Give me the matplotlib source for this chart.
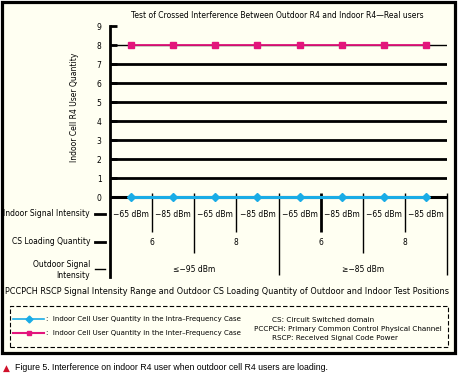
import numpy as np
import matplotlib
matplotlib.use('Agg')
from matplotlib import pyplot as plt
from matplotlib.patches import Rectangle

# datos
posiciones = np.arange(8) + 0.5
intra_frecuencia = [0, 0, 0, 0, 0, 0, 0, 0]
inter_frecuencia = [8, 8, 8, 8, 8, 8, 8, 8]
senal_interior = ['\u221265 dBm', '\u221285 dBm'] * 4
carga_cs = ['6', '8', '6', '8']
senal_exterior = ['\u2264\u221295 dBm', '\u2265\u221285 dBm']
yticks = list(range(10))

W, H = 459, 375
fondo = '#FFFFF2'
azul = '#1AACE6'
magenta = '#E3157C'

fig = plt.figure(figsize=(W / 100, H / 100), dpi=100)
fig.patch.set_facecolor('white')

# marco exterior
fig.patches.append(Rectangle((1.5 / W, 1 - 352.5 / H), 453.5 / W, 351 / H,
                             transform=fig.transFigure, facecolor=fondo,
                             edgecolor='black', linewidth=2.3, zorder=-5))


def px(x, y):
    return x / W, 1 - y / H


ax = fig.add_axes([110 / W, 1 - 277 / H, 337 / W, 251 / H])
ax.set_facecolor('none')
ax.set_xlim(0, 8)
ax.set_ylim(-4.21, 9)
for lado in ['top', 'right', 'bottom']:
    ax.spines[lado].set_visible(False)
ax.spines['left'].set_linewidth(2)
ax.set_xticks([])
ax.set_yticks(yticks)
ax.set_yticklabels([str(t) for t in yticks], fontsize=5.5)
ax.tick_params(axis='y', direction='in', length=5, width=2, pad=6)

# lineas de la rejilla
for g in range(1, 8):
    ax.plot([0, 8], [g, g], color='black', lw=2, zorder=1, solid_capstyle='butt')
ax.plot([0, 8], [8, 8], color='black', lw=1, zorder=1)
ax.plot([0, 8], [0, 0], color='black', lw=2.2, zorder=1, solid_capstyle='butt')

ax.plot(posiciones, intra_frecuencia, color=azul, lw=2.2, marker='D',
        markersize=4, zorder=3, clip_on=False)
ax.plot(posiciones, inter_frecuencia, color=magenta, lw=1.3, marker='s',
        markersize=4, zorder=3, clip_on=False)

ax.set_ylabel('Indoor Cell R4 User Quantity', fontsize=5.5)
ax.yaxis.set_label_coords(-0.092, 0.677)

# tabla debajo del eje
largos = [-1.84, -2.95, -1.84, -4.1, -1.84, -2.95, -1.84, -4.1]
anchos = [1, 1, 1, 1, 2, 1, 1, 1]
for k in range(8):
    ax.plot([k + 1, k + 1], [0.2, largos[k]], color='black', lw=anchos[k],
            clip_on=False, solid_capstyle='butt')

for i, t in enumerate(senal_interior):
    ax.text(posiciones[i], -0.9, t, fontsize=5.5, ha='center', va='center')
for i, t in enumerate(carga_cs):
    ax.text(2 * i + 1, -2.37, t, fontsize=5.5, ha='center', va='center')
for i, t in enumerate(senal_exterior):
    ax.text(4 * i + 2, -3.84, t, fontsize=5.5, ha='center', va='center')

fig.text(*px(90, 214), 'Indoor Signal Intensity', fontsize=5.5, ha='right', va='center')
fig.text(*px(90, 242), 'CS Loading Quantity', fontsize=5.5, ha='right', va='center')
fig.text(*px(90, 270), 'Outdoor Signal\nIntensity', fontsize=5.5, ha='right',
         va='center', multialignment='right', linespacing=1.4)
for yy, lw in [(214, 2), (242, 2), (269, 1)]:
    fig.add_artist(plt.Line2D([95 / W, 105 / W], [1 - yy / H] * 2,
                              color='black', lw=lw))

fig.text(*px(277, 15), 'Test of Crossed Interference Between Outdoor R4 and Indoor R4\u2014Real users',
         fontsize=5.5, ha='center', va='center')
fig.text(*px(227, 292), 'PCCPCH RSCP Signal Intensity Range and Outdoor CS Loading Quantity of Outdoor and Indoor Test Positions',
         fontsize=5.85, ha='center', va='center')

# leyenda
fig.patches.append(Rectangle((10 / W, 1 - 347 / H), 438 / W, 41 / H,
                             transform=fig.transFigure, facecolor='none',
                             edgecolor='black', linewidth=0.8, linestyle=(0, (4, 2))))
fig.add_artist(plt.Line2D([13 / W, 44 / W], [1 - 319 / H] * 2, color=azul, lw=1.2))
fig.add_artist(plt.Line2D([28.5 / W], [1 - 319 / H], color=azul, marker='D', markersize=3.5))
fig.add_artist(plt.Line2D([13 / W, 44 / W], [1 - 333 / H] * 2, color=magenta, lw=1.5))
fig.add_artist(plt.Line2D([28.5 / W], [1 - 333 / H], color=magenta, marker='s', markersize=3.5))
fig.text(*px(46, 319), ':  Indoor Cell User Quantity in the Intra\u2013Frequency Case',
         fontsize=5.0, ha='left', va='center')
fig.text(*px(46, 333), ':  Indoor Cell User Quantity in the Inter\u2013Frequency Case',
         fontsize=5.0, ha='left', va='center')
fig.text(*px(272, 320), 'CS: Circuit Switched domain', fontsize=5.2, ha='left', va='center')
fig.text(*px(254, 329), 'PCCPCH: Primary Common Control Physical Channel', fontsize=5.2,
         ha='left', va='center')
fig.text(*px(272, 338), 'RSCP: Received Signal Code Power', fontsize=5.2, ha='left', va='center')

# pie de figura
fig.text(*px(3, 368), '\u25b2', fontsize=6.5, color='#D0102A', ha='left', va='center')
fig.text(*px(15, 368), 'Figure 5. Interference on indoor R4 user when outdoor cell R4 users are loading.',
         fontsize=6.3, ha='left', va='center', family=['Liberation Sans', 'DejaVu Sans'])

fig.savefig('out.png', dpi=100, facecolor='white')
